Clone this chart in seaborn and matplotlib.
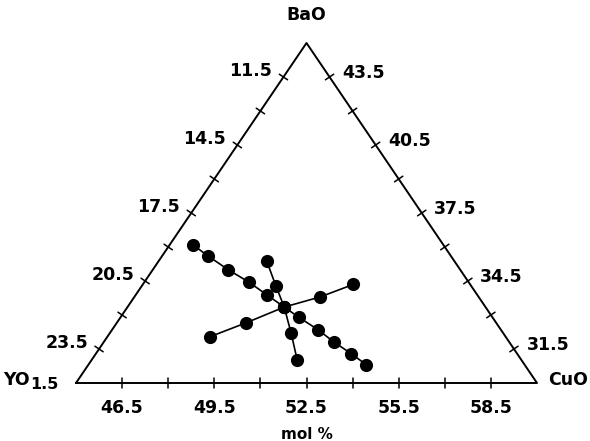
import numpy as np
import pandas as pd
import matplotlib
matplotlib.use('Agg')
import matplotlib.pyplot as plt
import seaborn as sns

# sub-triangle of the Y-Ba-Cu oxide diagram (mol %)
CU_MIN, BA_MIN, SIDE = 45.0, 30.0, 15.0

# compositions: three sections through YBa2Cu3Ox
# section A: constant Y:Ba, varying CuO
ba_a = [36.1, 35.6, 35.0, 34.45, 33.9, 33.35, 32.9, 32.35, 31.8, 31.3, 30.8]
cu_a = [45.75, 46.5, 47.45, 48.4, 49.25, 50.1, 50.8, 51.7, 52.5, 53.3, 54.05]
# section B: constant Y:Cu, varying BaO
ba_b = [35.4, 34.3, 33.35, 32.2, 31.0]
cu_b = [48.5, 49.35, 50.1, 50.9, 51.7]
# section C: constant Ba:Cu, varying YO1.5
ba_c = [32.05, 32.65, 33.35, 33.8, 34.35]
cu_c = [48.35, 49.2, 50.1, 51.05, 51.85]

yo_ticks = [11.5, 13, 14.5, 16, 17.5, 19, 20.5, 22, 23.5]
ba_ticks = [43.5, 42, 40.5, 39, 37.5, 36, 34.5, 33, 31.5]
cu_ticks = [46.5, 48, 49.5, 51, 52.5, 54, 55.5, 57, 58.5]


def to_xy(ba, cu):
    b = (np.asarray(ba) - BA_MIN) / SIDE
    c = (np.asarray(cu) - CU_MIN) / SIDE
    return c + b / 2, b


rows = []
for name, ba, cu in [('A', ba_a, cu_a), ('B', ba_b, cu_b), ('C', ba_c, cu_c)]:
    x, y = to_xy(ba, cu)
    rows.append(pd.DataFrame({'x': x, 'y': y, 'series': name}))
df = pd.concat(rows, ignore_index=True)

sns.set_style('white')
plt.rcParams['font.family'] = ['DejaVu Sans']
plt.rcParams['font.weight'] = 'bold'
plt.rcParams['text.color'] = 'black'

FS = 12.5
fig = plt.figure(figsize=(5.9, 4.41), dpi=100)
ax = fig.add_axes([0, 0, 1, 1])
SX, SY = 461.0, 340.0  # pixels per unit
ax.set_xlim(-76 / SX, 514 / SX)
ax.set_ylim(-58 / SY, 383 / SY)
ax.axis('off')

# triangle frame
ax.plot([0, 1, 0.5, 0], [0, 0, 1, 0], color='black', lw=1.4, zorder=1)


def tick(x, y, dx_px, dy_px, half=5):
    n = np.hypot(dx_px, dy_px)
    ux, uy = dx_px / n * half / SX, dy_px / n * half / SY
    ax.plot([x - ux, x + ux], [y - uy, y + uy], color='black', lw=1.1)


# left edge (YO1.5), labels every other tick
for i, v in enumerate(yo_ticks):
    x, y = to_xy(100 - CU_MIN - v, CU_MIN)
    tick(x, y, 340, -230.5)
    if i % 2 == 0:
        ax.annotate(f'{v:.1f}', (x, y), xytext=(-8, 4), textcoords='offset points',
                    ha='right', va='center', fontsize=FS, fontweight='bold')

# right edge (BaO)
for i, v in enumerate(ba_ticks):
    x, y = to_xy(v, 100 - 10 - v)
    tick(x, y, 340, 230.5)
    if i % 2 == 0:
        ax.annotate(f'{v:.1f}', (x, y), xytext=(9, 3), textcoords='offset points',
                    ha='left', va='center', fontsize=FS, fontweight='bold')

# bottom edge (CuO)
for i, v in enumerate(cu_ticks):
    x, y = to_xy(BA_MIN, v)
    tick(x, y, 0, 1)
    if i % 2 == 0:
        ax.annotate(f'{v:.1f}', (x, y), xytext=(0, -18), textcoords='offset points',
                    ha='center', va='center', fontsize=FS, fontweight='bold')

sns.lineplot(data=df, x='x', y='y', units='series', estimator=None, sort=False,
             color='black', lw=1.2, ax=ax, zorder=2)
sns.scatterplot(data=df, x='x', y='y', color='black', s=90, edgecolor='black',
                linewidth=0, ax=ax, zorder=3, legend=False)

# corner and axis labels
ax.annotate('BaO', (0.5, 1), xytext=(0, 20), textcoords='offset points',
            ha='center', va='center', fontsize=FS, fontweight='bold')
ax.annotate('YO', (0, 0), xytext=(-33, 2), textcoords='offset points',
            ha='right', va='center', fontsize=FS, fontweight='bold')
ax.annotate('1.5', (0, 0), xytext=(-33, -1), textcoords='offset points',
            ha='left', va='center', fontsize=FS - 1, fontweight='bold')
ax.annotate('CuO', (1, 0), xytext=(8, 2), textcoords='offset points',
            ha='left', va='center', fontsize=FS, fontweight='bold')
ax.annotate('mol %', (0.5, 0), xytext=(0, -37), textcoords='offset points',
            ha='center', va='center', fontsize=FS - 1.5, fontweight='bold')

fig.savefig('out.png', dpi=100)
